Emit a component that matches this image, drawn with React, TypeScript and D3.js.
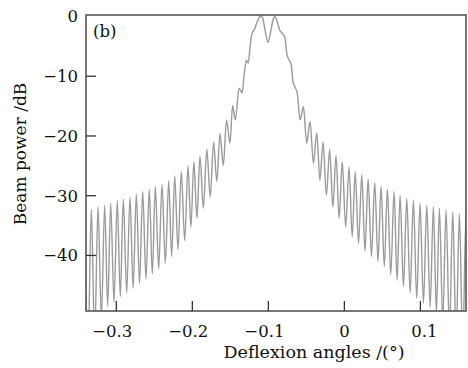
import React from "react";
import * as d3 from "d3";

// ---- data (angle in degrees, power in dB) ----
const mainLobe: [number, number][] = [
  [-0.1385, -12.0], [-0.1345, -12.8], [-0.132, -10.0], [-0.129, -7.3], [-0.1265, -7.8],
  [-0.124, -5.0], [-0.1215, -2.8], [-0.1185, -2.2], [-0.115, -1.0], [-0.111, 0.0],
  [-0.108, -0.1], [-0.105, -1.8], [-0.1005, -4.3], [-0.097, -2.6], [-0.0935, -0.4],
  [-0.091, 0.0], [-0.0885, -0.8], [-0.085, -2.3], [-0.081, -2.9], [-0.078, -3.7],
  [-0.0755, -6.4], [-0.0725, -7.3], [-0.07, -8.0], [-0.0675, -11.0], [-0.065, -11.8],
  [-0.062, -12.8], [-0.0583, -17.3],
];

const leftPeaks: [number, number][] = [
  [-0.3417, -32.6], [-0.3329, -32.3], [-0.3241, -31.9], [-0.3153, -31.6], [-0.3074, -31.3],
  [-0.2987, -30.8], [-0.2908, -30.6], [-0.282, -30.2], [-0.2737, -29.7], [-0.2653, -29.3],
  [-0.2566, -28.9], [-0.2487, -28.5], [-0.2399, -28.1], [-0.2311, -27.5], [-0.2232, -26.7],
  [-0.2145, -26.0], [-0.2057, -25.0], [-0.198, -24.3], [-0.19, -23.4], [-0.181, -22.2],
  [-0.172, -21.0], [-0.1636, -19.6], [-0.155, -17.3], [-0.147, -14.9],
];

const leftNulls: [number, number][] = [
  [-0.3373, -56], [-0.3285, -54], [-0.3197, -50.5], [-0.3114, -48.5], [-0.3031, -47.8],
  [-0.2948, -46.9], [-0.2864, -46.2], [-0.2779, -45.5], [-0.2695, -44.7], [-0.261, -43.9],
  [-0.2527, -43.1], [-0.2443, -42.2], [-0.2355, -41.3], [-0.2272, -40.2], [-0.2189, -39.0],
  [-0.2101, -37.5], [-0.2019, -35.3], [-0.194, -33.8], [-0.1855, -32.1], [-0.1765, -30.2],
  [-0.1678, -27.6], [-0.1593, -24.9], [-0.1505, -21.2], [-0.1435, -17.3],
];

const rightPeaks: [number, number][] = [
  [-0.0539, -15.1], [-0.0451, -17.6], [-0.0363, -19.5], [-0.028, -21.0], [-0.0193, -22.2],
  [-0.011, -23.3], [-0.0028, -24.3], [0.0062, -25.2], [0.0143, -26.0], [0.0229, -26.5],
  [0.0312, -27.2], [0.04, -27.8], [0.0483, -28.4], [0.0566, -28.9], [0.0654, -29.3],
  [0.0733, -29.9], [0.0821, -30.4], [0.0908, -30.7], [0.0996, -31.3], [0.1084, -31.6],
  [0.1171, -31.9], [0.125, -32.1], [0.1338, -32.4], [0.1426, -32.7], [0.1513, -33.0],
  [0.16, -33.3], [0.1687, -33.6],
];

const rightNulls: [number, number][] = [
  [-0.0495, -21.2], [-0.0407, -24.6], [-0.0322, -27.4], [-0.0237, -29.9], [-0.0152, -31.9],
  [-0.0069, -33.8], [0.0017, -35.2], [0.0103, -36.9], [0.0186, -38.0], [0.0271, -39.3],
  [0.0356, -40.2], [0.0442, -41.0], [0.0525, -41.9], [0.061, -43.2], [0.0694, -44.2],
  [0.0777, -45.2], [0.0865, -46.3], [0.0952, -47.2], [0.104, -48.0], [0.1128, -48.7],
  [0.1211, -49.5], [0.1294, -51], [0.1382, -53], [0.147, -54], [0.1557, -55], [0.1644, -55],
];

const xTicks = [-0.3, -0.2, -0.1, 0, 0.1];
const xTickLabels = ["\u22120.3", "\u22120.2", "\u22120.1", "0", "0.1"];
const yTicks = [0, -10, -20, -30, -40];
const yTickLabels = ["0", "\u221210", "\u221220", "\u221230", "\u221240"];

const xDomain: [number, number] = [-0.3399, 0.16];
const yDomain: [number, number] = [-49.3, 0.25];

export default function App() {
  const W = 468, H = 368;
  const L = 86, R = 466, T = 15, B = 311;
  const x = d3.scaleLinear().domain(xDomain).range([L, R]);
  const y = d3.scaleLinear().domain(yDomain).range([B, T]);

  const pts = [...mainLobe, ...leftPeaks, ...leftNulls, ...rightPeaks, ...rightNulls].sort(
    (a, b) => a[0] - b[0]
  );
  const line = d3
    .line<[number, number]>()
    .x((d) => x(d[0]))
    .y((d) => y(d[1]))
    .curve(d3.curveMonotoneX);

  const font = "'DejaVu Serif', serif";

  return (
    <svg
      width={W}
      height={H}
      style={{ position: "absolute", left: 0, top: 0, background: "#fff" }}
      fontFamily={font}
    >
      <defs>
        <clipPath id="plot">
          <rect x={L} y={T} width={R - L} height={B - T} />
        </clipPath>
      </defs>
      <path d={line(pts) || ""} fill="none" stroke="#9a9a9a" strokeWidth={1.4} clipPath="url(#plot)" />
      <rect x={L} y={T} width={R - L} height={B - T} fill="none" stroke="#555" strokeWidth={1.6} />
      {xTicks.map((t, i) => (
        <g key={"x" + i}>
          <line x1={x(t)} x2={x(t)} y1={B} y2={B - 10} stroke="#333" strokeWidth={1.3} />
          <text x={x(t) + (t < 0 ? -4 : t > 0 ? 4 : 0)} y={337} fontSize={16.5} textAnchor="middle" fill="#111">
            {xTickLabels[i]}
          </text>
        </g>
      ))}
      {yTicks.map((t, i) => (
        <g key={"y" + i}>
          {t !== 0 && <line x1={L} x2={L + 10} y1={y(t)} y2={y(t)} stroke="#333" strokeWidth={1.3} />}
          <text x={78} y={y(t) + 6} fontSize={16.5} textAnchor="end" fill="#111">
            {yTickLabels[i]}
          </text>
        </g>
      ))}
      <text x={93} y={37} fontSize={16.5} fill="#111">(b)</text>
      <text x={314} y={358} fontSize={17.5} textAnchor="middle" fill="#111">
        Deflexion angles /(°)
      </text>
      <text
        transform={`translate(26,154) rotate(-90)`}
        fontSize={17}
        textAnchor="middle"
        fill="#111"
      >
        Beam power /dB
      </text>
    </svg>
  );
}
